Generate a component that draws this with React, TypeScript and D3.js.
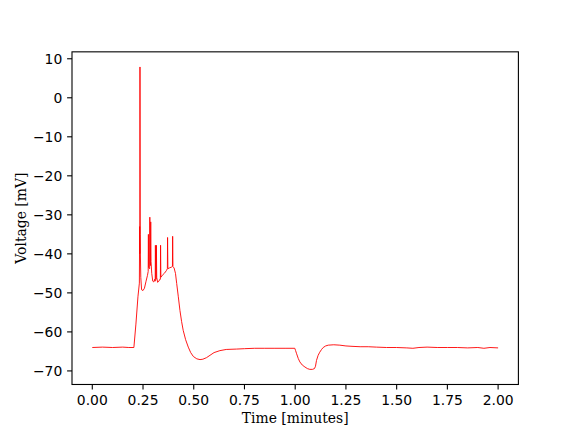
import React from "react";
import * as d3 from "d3";

const times: number[] = [
  0.0, 0.05, 0.1, 0.15, 0.18, 0.205, 0.215, 0.225, 0.232, 0.2335, 0.2345, 0.235, 0.236, 0.237, 0.239,
  0.243, 0.25, 0.257, 0.265, 0.272, 0.2755, 0.2765, 0.2775, 0.2825, 0.2835, 0.285, 0.2865, 0.288,
  0.2895, 0.293, 0.298, 0.303, 0.308, 0.31, 0.311, 0.3125, 0.315, 0.316, 0.3175, 0.322, 0.328, 0.333,
  0.3355, 0.3365, 0.338, 0.345, 0.355, 0.365, 0.37, 0.371, 0.3725, 0.38, 0.39, 0.395, 0.396, 0.3975,
  0.403, 0.41, 0.416, 0.424, 0.432, 0.44, 0.448, 0.46, 0.473, 0.485, 0.498, 0.515, 0.531, 0.545,
  0.563, 0.58, 0.6, 0.629, 0.66, 0.711, 0.75, 0.8, 0.85, 0.9, 0.95, 0.998, 1.002, 1.007, 1.015,
  1.023, 1.035, 1.048, 1.06, 1.072, 1.085, 1.095, 1.1, 1.105, 1.113, 1.121, 1.13, 1.138, 1.15, 1.163,
  1.19, 1.22, 1.25, 1.28, 1.32, 1.36, 1.4, 1.45, 1.5, 1.55, 1.58, 1.61, 1.65, 1.7, 1.75, 1.8, 1.85,
  1.9, 1.93, 1.96, 2.0,
];

const voltages: number[] = [
  -64.0, -63.9, -64.0, -63.9, -64.0, -64.0, -58, -51, -47.5, -33, -40, 7.9, -35, -40, -46,
  -49.2, -49.4, -48.8, -47, -45.5, -44.5, -35, -43.5, -43.8, -30.6, -42, -43, -31.8,
  -42, -45, -47, -47.2, -46.5, -47, -37.8, -46.5, -46.5, -37.8, -46, -47.3, -47, -46.5,
  -46.5, -37.8, -46, -45.5, -45, -44.3, -43.8, -35.8, -43.8, -43.6, -43.4, -43.2, -35.5, -43.3,
  -43.6, -45, -47.6, -51, -54.5, -57.3, -59.6, -62, -63.9, -65.3, -66.3, -66.9, -67.1, -67,
  -66.6, -66, -65.3, -64.8, -64.5, -64.4, -64.3, -64.2, -64.2, -64.2, -64.2, -64.2, -64.8, -65.6, -66.8,
  -67.7, -68.5, -69.0, -69.4, -69.6, -69.6, -69.4, -68.8, -67.3, -66.0, -65.2, -64.5, -64.0, -63.6, -63.4,
  -63.3, -63.4, -63.6, -63.7, -63.8, -63.8, -63.9, -64.0, -64.0, -64.1, -64.2, -64.0, -63.9, -64.0, -64.0, -64.0, -64.1,
  -64.0, -64.2, -64.0, -64.1,
];

const xTicks: number[] = [0, 0.25, 0.5, 0.75, 1.0, 1.25, 1.5, 1.75, 2.0];
const yTicks: number[] = [10, 0, -10, -20, -30, -40, -50, -60, -70];

const W = 576;
const H = 432;
const L = 72;
const R = 518.4;
const T = 51.84;
const B = 384.48;

const fmtY = (v: number) => (v < 0 ? "\u2212" + Math.abs(v) : String(v));

export default function App() {
  const tMin = d3.min(times)!;
  const tMax = d3.max(times)!;
  const vMin = d3.min(voltages)!;
  const vMax = d3.max(voltages)!;
  const tPad = (tMax - tMin) * 0.05;
  const vPad = (vMax - vMin) * 0.05;
  const x = d3.scaleLinear().domain([tMin - tPad, tMax + tPad]).range([L, R]);
  const y = d3.scaleLinear().domain([vMin - vPad, vMax + vPad]).range([B, T]);
  const pts: [number, number][] = times.map((t, i) => [t, voltages[i]]);
  const line = d3
    .line<[number, number]>()
    .x((d) => x(d[0]))
    .y((d) => y(d[1]));

  return (
    <svg width={W} height={H} style={{ position: "absolute", left: 0, top: 0 }}>
      <rect x={0} y={0} width={W} height={H} fill="white" />
      <path d={line(pts) || ""} fill="none" stroke="red" strokeWidth={0.9} strokeLinejoin="round" />
      <rect x={L} y={T} width={R - L} height={B - T} fill="none" stroke="black" strokeWidth={1.1} />
      {xTicks.map((t) => (
        <g key={"x" + t}>
          <line x1={x(t)} x2={x(t)} y1={B} y2={B + 4.9} stroke="black" strokeWidth={1.1} />
          <text
            x={x(t)}
            y={B + 9.7}
            fontFamily="DejaVu Sans"
            fontSize={13.9}
            textAnchor="middle"
            dominantBaseline="hanging"
          >
            {t.toFixed(2)}
          </text>
        </g>
      ))}
      {yTicks.map((v) => (
        <g key={"y" + v}>
          <line x1={L - 4.9} x2={L} y1={y(v)} y2={y(v)} stroke="black" strokeWidth={1.1} />
          <text
            x={L - 9.7}
            y={y(v)}
            fontFamily="DejaVu Sans"
            fontSize={13.9}
            textAnchor="end"
            dominantBaseline="central"
          >
            {fmtY(v)}
          </text>
        </g>
      ))}
      <text
        x={(L + R) / 2}
        y={423}
        fontFamily="DejaVu Serif"
        fontSize={13.9}
        textAnchor="middle"
      >
        Time [minutes]
      </text>
      <text
        transform={`translate(26, ${(T + B) / 2}) rotate(-90)`}
        fontFamily="DejaVu Serif"
        fontSize={13.9}
        textAnchor="middle"
      >
        Voltage [mV]
      </text>
    </svg>
  );
}
